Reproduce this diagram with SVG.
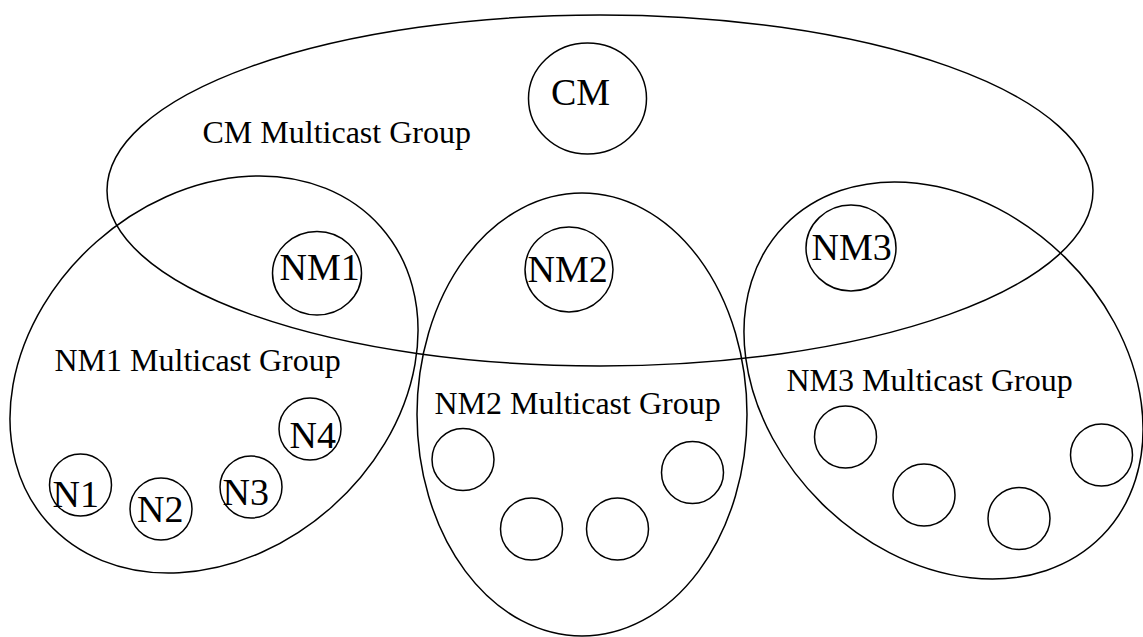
<svg xmlns="http://www.w3.org/2000/svg" width="1143" height="637" viewBox="0 0 1143 637">
  <style>
    .ring { fill: none; stroke: #000; stroke-width: 1.5; }
    .node { font-family: "Liberation Serif", "Times New Roman", serif; font-size: 38px; fill: #000; }
    .group-label { font-family: "Liberation Serif", "Times New Roman", serif; font-size: 32px; fill: #000; }
  </style>
  <rect width="1143" height="637" fill="#fff"/>

  <!-- multicast group boundaries -->
  <g id="cm-group">
    <ellipse class="ring" cx="600" cy="190.5" rx="493" ry="175.5"/>
    <text class="group-label" x="202.5" y="143">CM Multicast Group</text>
  </g>
  <g id="nm1-group">
    <ellipse class="ring" cx="214" cy="374.5" rx="222.7" ry="177.3" transform="rotate(-41.5 214 374.5)"/>
    <text class="group-label" x="54.5" y="371">NM1 Multicast Group</text>
  </g>
  <g id="nm2-group">
    <ellipse class="ring" cx="582" cy="414.5" rx="165" ry="221.5"/>
    <text class="group-label" x="434.5" y="414">NM2 Multicast Group</text>
  </g>
  <g id="nm3-group">
    <ellipse class="ring" cx="943.5" cy="380.5" rx="222" ry="173" transform="rotate(44.4 943.5 380.5)"/>
    <text class="group-label" x="786.5" y="391">NM3 Multicast Group</text>
  </g>

  <!-- managers -->
  <g id="cm">
    <ellipse class="ring" cx="587.5" cy="98.5" rx="59" ry="55.5"/>
    <text class="node" x="551" y="105">CM</text>
  </g>
  <g id="nm1">
    <ellipse class="ring" cx="317" cy="273.3" rx="44.5" ry="41.7"/>
    <text class="node" x="279.5" y="280">NM1</text>
  </g>
  <g id="nm2">
    <ellipse class="ring" cx="569" cy="269.5" rx="44" ry="42.5"/>
    <text class="node" x="527.5" y="282">NM2</text>
  </g>
  <g id="nm3">
    <ellipse class="ring" cx="851" cy="248" rx="45" ry="43"/>
    <text class="node" x="811.5" y="260">NM3</text>
  </g>

  <!-- members of NM1 -->
  <g id="n1">
    <circle class="ring" cx="80.5" cy="485" r="31"/>
    <text class="node" x="52.5" y="507">N1</text>
  </g>
  <g id="n2">
    <circle class="ring" cx="161" cy="509" r="31"/>
    <text class="node" x="137" y="522">N2</text>
  </g>
  <g id="n3">
    <circle class="ring" cx="251" cy="487" r="31"/>
    <text class="node" x="222.5" y="505">N3</text>
  </g>
  <g id="n4">
    <circle class="ring" cx="310" cy="429" r="31"/>
    <text class="node" x="289.5" y="448">N4</text>
  </g>

  <!-- members of NM2 -->
  <g id="nm2-m1"><circle class="ring" cx="463" cy="459.5" r="31"/></g>
  <g id="nm2-m2"><circle class="ring" cx="531.5" cy="529" r="31"/></g>
  <g id="nm2-m3"><circle class="ring" cx="617.5" cy="529" r="31"/></g>
  <g id="nm2-m4"><circle class="ring" cx="692.5" cy="472.5" r="31"/></g>

  <!-- members of NM3 -->
  <g id="nm3-m1"><circle class="ring" cx="845.5" cy="437" r="31"/></g>
  <g id="nm3-m2"><circle class="ring" cx="924" cy="495" r="31"/></g>
  <g id="nm3-m3"><circle class="ring" cx="1019" cy="518.5" r="31"/></g>
  <g id="nm3-m4"><circle class="ring" cx="1101.5" cy="455" r="31"/></g>
</svg>
